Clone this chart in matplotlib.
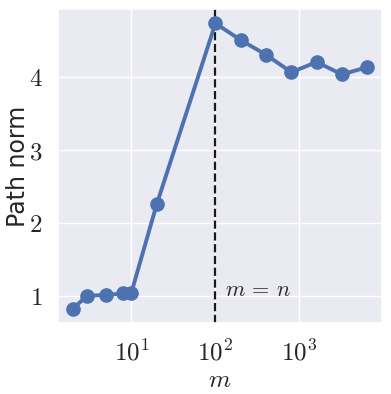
import numpy as np
import matplotlib
matplotlib.use("Agg")
import matplotlib.pyplot as plt
import matplotlib.ticker as mticker
import seaborn as sns

# data
m_values = [2, 3, 5, 8, 10, 20, 100, 200, 400, 800, 1600, 3200, 6400]
path_norm = [0.82, 1.00, 1.01, 1.03, 1.04, 2.25, 4.73, 4.50, 4.30, 4.06, 4.20, 4.03, 4.13]
n_samples = 100

sns.set_theme(style="darkgrid", font_scale=1.5)
plt.rcParams['mathtext.fontset'] = 'cm'

fig, ax = plt.subplots(figsize=(3.91, 3.94), dpi=100)
ax.plot(m_values, path_norm, 'o-', color='#4c72b0', lw=2.8, ms=9.5)
ax.axvline(n_samples, color='k', ls='--', lw=1.6, zorder=1)
ax.text(n_samples * 1.3, 1.1, r'$m\,=\,n$', fontsize=16, va='center_baseline')

ax.set_xscale('log')
ax.xaxis.set_major_locator(mticker.FixedLocator([10, 100, 1000]))
ax.xaxis.set_minor_locator(mticker.NullLocator())
ax.xaxis.set_major_formatter(mticker.FuncFormatter(lambda v, p: r'$10^{%d}$' % round(np.log10(v))))
ax.yaxis.set_major_locator(mticker.FixedLocator([1, 2, 3, 4]))
ax.yaxis.set_major_formatter(mticker.FuncFormatter(lambda v, p: r'$%d$' % v))
ax.tick_params(labelsize=18)
ax.tick_params(axis='y', pad=5)
ax.tick_params(axis='x', pad=6)
ax.set_xlabel(r'$m$', fontsize=18, labelpad=2)
ax.set_ylabel('Path norm', fontsize=17, labelpad=-1)

fig.subplots_adjust(left=0.148, right=0.977, top=0.977, bottom=0.18)
fig.savefig('out.png', dpi=100)
